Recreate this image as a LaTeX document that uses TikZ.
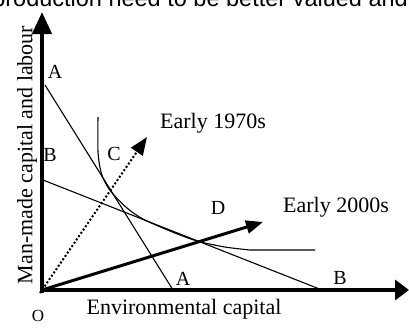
\documentclass[tikz,border=0pt]{standalone}
\usepackage{fontspec}
\setmainfont{Liberation Serif}
\newfontfamily\topfont{Liberation Sans}
\usetikzlibrary{arrows.meta}
\begin{document}
\begin{tikzpicture}[x=1pt,y=-1pt,
  lbl/.style={font=\fontsize{20}{20}\selectfont, inner sep=0pt},
  big/.style={font=\fontsize{22}{22}\selectfont, inner sep=0pt},
  axisline/.style={line width=4.5pt},
  budget/.style={line width=1.1pt},
  isoq/.style={line width=1.1pt},
  path70/.style={line width=2pt, dash pattern=on 2pt off 2pt, -{Triangle[length=18pt,width=14pt]}},
  path00/.style={line width=3pt, -{Triangle[length=17pt,width=13pt]}}]
\clip (0,0) rectangle (409,327);
% cropped line of text from the page above
\node[anchor=base east, inner sep=0pt, font=\topfont\fontsize{23.5}{24}\selectfont] (toptext) at (408,6.5) {production need to be better valued and};
% coordinates
\coordinate (O) at (42,290);
\coordinate (Ob) at (42,293);
\coordinate (Ol) at (39.8,290);
\coordinate (ytip) at (42,12);
\coordinate (xtip) at (409,290);
\coordinate (A1) at (45,85);
\coordinate (A2) at (173,290);
\coordinate (B1) at (43,180);
\coordinate (B2) at (322,290);
\coordinate (t70) at (147,137);
\coordinate (t00) at (263,222);
\coordinate (O70) at (40,293);
% budget lines
\draw[budget] (A1) -- (A2);
\draw[budget] (B1) -- (B2);
% isoquant
\draw[isoq] plot[smooth, tension=0.5] coordinates {(98,117) (98,152) (101,172) (106,184) (113,194) (127,208) (143,219) (170,231) (197,241) (225,247) (250,250)} -- (315,250);
% expansion paths
\draw[path70] (O70) -- (t70);
\draw[path00] (O) -- (t00);
% axes
\draw[axisline, -{Triangle[length=22pt,width=19pt]}] (Ob) -- (ytip);
\draw[axisline, line width=4pt, -{Triangle[length=14pt,width=20pt]}] (Ol) -- (xtip);
% labels
\node[lbl] (la1) at (55,72) {A};
\node[lbl] (lb1) at (50,155) {B};
\node[lbl] (lc) at (114,154) {C};
\node[lbl] (ld) at (218,208) {D};
\node[lbl] (la2) at (183,279) {A};
\node[lbl] (lb2) at (340,278) {B};
\node[lbl, font=\fontsize{17}{17}\selectfont] (lo) at (38,316) {O};
\node[big, anchor=west] (e70) at (160,123) {Early 1970s};
\node[big, anchor=west] (e00) at (283,207) {Early 2000s};
\node[big] (xlab) at (184,309) {Environmental capital};
\node[big, rotate=90] (ylab) at (27,155) {Man-made capital and labour};
\end{tikzpicture}
\end{document}
